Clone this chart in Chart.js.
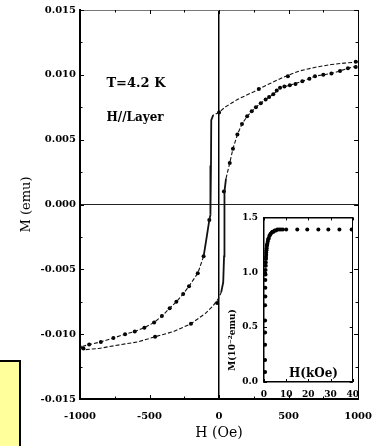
<!DOCTYPE html>
<html>
<head>
<meta charset="utf-8">
<script src="https://cdn.jsdelivr.net/npm/chart.js@4"></script>
<style>
  html, body { margin: 0; padding: 0; background: #fff; }
  #wrap { position: relative; width: 383px; height: 446px; overflow: hidden; }
  #main { position: absolute; left: 0; top: 0; }
  #inset { position: absolute; left: 226px; top: 206px; }
  .note { position: absolute; left: -3px; top: 360px; width: 20px; height: 100px; background: #ffff9c; border: 2px solid #000; }
</style>
</head>
<body>
<div id="wrap">
  <canvas id="main" width="383" height="446"></canvas>
  <canvas id="inset" width="140" height="200"></canvas>
  <div class="note"></div>
</div>
<script>
// Main loop: H in Oe, M in emu
const descH = [1000, 900, 808, 700, 578, 460, 341, 251, 132, 42, 0, -42, -56, -58, -60, -64, -70, -90, -111, -153, -216, -258, -307, -355, -411, -467, -537, -606, -676, -760, -850, -934, -1000];
const descM = [0.0110, 0.0109, 0.0108, 0.0106, 0.0103, 0.0098, 0.0092, 0.0087, 0.0081, 0.0075, 0.0071, 0.0069, 0.0065, 0.0030, -0.0002, -0.0008, -0.0012, -0.0026, -0.0040, -0.0053, -0.0063, -0.0069, -0.0075, -0.0080, -0.0086, -0.0091, -0.0095, -0.0098, -0.0100, -0.0103, -0.0106, -0.0108, -0.0110];

const ascH = [-1000, -969, -864, -704, -585, -460, -328, -202, -98, -42, -7, 15, 30, 36, 38, 40, 50, 77, 100, 132, 165, 202, 265, 335, 390, 439, 509, 599, 690, 808, 927, 1000];
const ascM = [-0.0111, -0.0112, -0.0111, -0.0108, -0.0106, -0.0102, -0.0098, -0.0092, -0.0084, -0.0078, -0.0073, -0.0068, -0.0060, -0.0040, 0.0000, 0.0010, 0.0020, 0.0032, 0.0043, 0.0054, 0.0062, 0.0068, 0.0075, 0.0081, 0.0085, 0.0090, 0.0092, 0.0095, 0.0099, 0.0101, 0.0105, 0.0107];

// measured points
const dotH = [-1000, -975, -934, -850, -760, -676, -606, -537, -467, -411, -355, -307, -258, -216, -153, -111, -70,
              -460, -202, -14, 0,
              35, 77, 100, 132, 165, 202, 235, 265, 300, 335, 360, 390, 415, 439, 470, 509, 550, 599, 650, 690, 750, 808, 870, 927, 983,
              286, 495, 983];
const dotM = [-0.0110, -0.0111, -0.0108, -0.0106, -0.0103, -0.0100, -0.0098, -0.0095, -0.0091, -0.0086, -0.0080, -0.0075, -0.0069, -0.0063, -0.0053, -0.0040, -0.0012,
              -0.0102, -0.0092, -0.0076, 0.0071,
              0.0010, 0.0032, 0.0043, 0.0054, 0.0062, 0.0068, 0.0072, 0.0075, 0.0078, 0.0081, 0.0083, 0.0085, 0.0088, 0.0090, 0.0091, 0.0092, 0.0093, 0.0095, 0.0097, 0.0099, 0.0100, 0.0101, 0.0103, 0.0105, 0.0106,
              0.0089, 0.0099, 0.0110];

const xTicks = [-1000, -750, -500, -250, 0, 250, 500, 750, 1000];
const xTickLabels = ['-1000', '', '-500', '', '0', '', '500', '', '1000'];
const yTicks = [-0.015, -0.0125, -0.01, -0.0075, -0.005, -0.0025, 0, 0.0025, 0.005, 0.0075, 0.01, 0.0125, 0.015];
const yTickLabels = ['-0.015', '', '-0.010', '', '-0.005', '', '0.000', '', '0.005', '', '0.010', '', '0.015'];

// Inset: H in kOe, M in 10^-2 emu
const insetH = [0.5, 0.5, 0.5, 0.5, 0.5, 0.5, 0.6, 0.6, 0.6, 0.7, 0.7, 0.8, 0.8, 0.9, 0.9, 1.0, 1.0, 1.1, 1.2, 1.3, 1.4, 1.5, 1.7, 1.9, 2.1, 2.4, 2.7, 3.0, 3.4, 3.8, 4.3, 4.8, 5.4, 6.0, 6.8, 7.6, 8.5, 10, 15, 19.5, 24.5, 29, 34, 39.5];
const insetM = [0.09, 0.2, 0.34, 0.45, 0.56, 0.7, 0.78, 0.86, 0.93, 0.98, 1.02, 1.06, 1.09, 1.12, 1.14, 1.16, 1.18, 1.2, 1.22, 1.24, 1.25, 1.26, 1.28, 1.3, 1.31, 1.33, 1.34, 1.35, 1.36, 1.37, 1.37, 1.38, 1.38, 1.39, 1.39, 1.39, 1.39, 1.39, 1.39, 1.39, 1.39, 1.39, 1.39, 1.39];
const insetXTicks = [0, 10, 20, 30, 40];
const insetXTickLabels = ['0', '10', '20', '30', '40'];
const insetYTicks = [0, 0.5, 1.0, 1.5];
const insetYTickLabels = ['0.0', '0.5', '1.0', '1.5'];

const serif = "'DejaVu Serif', 'Liberation Serif', serif";
const toPoints = (xs, ys) => xs.map((x, i) => ({ x: x, y: ys[i] }));

// vertical jumps solid, the rest thin dashed
const curveSegment = {
    borderDash: ctx => Math.abs(ctx.p1.x - ctx.p0.x) < 3 ? [] : [4, 2],
    borderWidth: ctx => Math.abs(ctx.p1.x - ctx.p0.x) < 3 ? 1.8 : 1.1
};

// tick marks drawn inwards on all four sides
const inwardTicks = {
    id: 'inwardTicks',
    afterDatasetsDraw(chart, args, opts) {
        const { ctx, chartArea: a, scales: { x, y } } = chart;
        ctx.save();
        ctx.strokeStyle = '#000';
        ctx.lineWidth = 1;
        ctx.beginPath();
        x.ticks.forEach(t => {
            const px = Math.round(x.getPixelForValue(t.value)) + 0.5;
            const len = t.label ? opts.major : opts.minor;
            ctx.moveTo(px, a.bottom); ctx.lineTo(px, a.bottom - len);
            ctx.moveTo(px, a.top); ctx.lineTo(px, a.top + len);
        });
        y.ticks.forEach(t => {
            const py = Math.round(y.getPixelForValue(t.value)) + 0.5;
            const len = t.label ? opts.major : opts.minor;
            ctx.moveTo(a.left, py); ctx.lineTo(a.left + len, py);
            ctx.moveTo(a.right, py); ctx.lineTo(a.right - len, py);
        });
        ctx.stroke();
        ctx.restore();
    }
};

const mainNotes = {
    id: 'mainNotes',
    afterDraw(chart) {
        const { ctx, scales: { x, y } } = chart;
        ctx.save();
        ctx.fillStyle = '#000';
        ctx.textBaseline = 'middle';
        ctx.font = 'bold 13px ' + serif;
        ctx.fillText('T=4.2 K', x.getPixelForValue(-810), y.getPixelForValue(0.0093));
        ctx.font = 'bold 12px ' + serif;
        ctx.fillText('H//Layer', x.getPixelForValue(-810), y.getPixelForValue(0.0067));
        ctx.restore();
    }
};

const insetDeco = {
    id: 'insetDeco',
    beforeDraw(chart) {
        const { ctx, chartArea: a } = chart;
        ctx.save();
        ctx.fillStyle = '#fff';
        ctx.fillRect(a.left, a.top, a.right - a.left, a.bottom - a.top);
        ctx.restore();
    },
    afterDraw(chart) {
        const { ctx, scales: { x, y } } = chart;
        ctx.save();
        ctx.fillStyle = '#000';
        ctx.textAlign = 'center';
        ctx.textBaseline = 'middle';
        ctx.font = 'bold 12px ' + serif;
        ctx.fillText('H(kOe)', x.getPixelForValue(22.3), y.getPixelForValue(0.07));
        ctx.translate(7, 134);
        ctx.rotate(-Math.PI / 2);
        ctx.font = 'bold 9px ' + serif;
        ctx.fillText('M(10\u207B\u00B2emu)', 0, 0);
        ctx.restore();
    }
};

const tickFont = { family: serif, size: 10, weight: 'bold' };

new Chart(document.getElementById('main'), {
    type: 'scatter',
    data: {
        datasets: [
            { data: toPoints(descH, descM), showLine: true, pointRadius: 0, borderColor: '#111', borderWidth: 1.1, segment: curveSegment },
            { data: toPoints(ascH, ascM), showLine: true, pointRadius: 0, borderColor: '#111', borderWidth: 1.1, segment: curveSegment },
            { data: toPoints(dotH, dotM), showLine: false, pointRadius: 2, pointBackgroundColor: '#000', pointBorderWidth: 0 }
        ]
    },
    options: {
        responsive: false,
        animation: false,
        layout: { padding: { left: 0, top: 10, right: 18, bottom: 0 } },
        plugins: { legend: { display: false }, tooltip: { enabled: false }, inwardTicks: { major: 4, minor: 2.5 } },
        scales: {
            x: {
                type: 'linear', min: -1000, max: 1000,
                afterBuildTicks: s => { s.ticks = xTicks.map(v => ({ value: v })); },
                afterFit: s => { s.height = 47; },
                ticks: { callback: (v, i) => xTickLabels[i], font: tickFont, color: '#000', padding: 11, maxRotation: 0, autoSkip: false },
                grid: {
                    drawTicks: false,
                    color: c => c.tick && (c.tick.value === 0 || c.tick.value === 1000) ? '#000' : 'transparent',
                    lineWidth: c => c.tick && c.tick.value === 0 ? 1.5 : 1
                },
                border: { color: '#000', width: 2 },
                title: { display: true, text: 'H (Oe)', color: '#000', font: { family: serif, size: 14 }, padding: { top: 0, bottom: 4 } }
            },
            y: {
                type: 'linear', min: -0.015, max: 0.015,
                afterBuildTicks: s => { s.ticks = yTicks.map(v => ({ value: v })); },
                afterFit: s => { s.width = 80; },
                ticks: { callback: (v, i) => yTickLabels[i], font: tickFont, color: '#000', padding: 4, autoSkip: false },
                grid: {
                    drawTicks: false,
                    color: c => !c.tick ? 'transparent' : c.tick.value === 0 ? '#222' : c.tick.value === 0.015 ? '#777' : 'transparent',
                    lineWidth: 1
                },
                border: { color: '#000', width: 2 },
                title: { display: true, text: 'M (emu)', color: '#000', font: { family: serif, size: 13 }, padding: { top: 19, bottom: 0 } }
            }
        }
    },
    plugins: [inwardTicks, mainNotes]
});

new Chart(document.getElementById('inset'), {
    type: 'scatter',
    data: {
        datasets: [
            { data: toPoints(insetH, insetM), pointRadius: 2, pointBackgroundColor: '#000', pointBorderWidth: 0 }
        ]
    },
    options: {
        responsive: false,
        animation: false,
        layout: { padding: { left: 0, top: 11, right: 5, bottom: 0 } },
        plugins: { legend: { display: false }, tooltip: { enabled: false }, inwardTicks: { major: 3, minor: 3 } },
        scales: {
            x: {
                type: 'linear', min: 0, max: 40,
                afterBuildTicks: s => { s.ticks = insetXTicks.map(v => ({ value: v })); },
                afterFit: s => { s.height = 24; },
                ticks: { callback: (v, i) => insetXTickLabels[i], font: { family: serif, size: 9, weight: 'bold' }, color: '#000', padding: 7, maxRotation: 0, autoSkip: false },
                grid: { drawTicks: false, color: c => c.tick && c.tick.value === 40 ? '#000' : 'transparent' },
                border: { color: '#000', width: 1.5 }
            },
            y: {
                type: 'linear', min: 0, max: 1.5,
                afterBuildTicks: s => { s.ticks = insetYTicks.map(v => ({ value: v })); },
                afterFit: s => { s.width = 38; },
                ticks: { callback: (v, i) => insetYTickLabels[i], font: { family: serif, size: 9, weight: 'bold' }, color: '#000', padding: 6, autoSkip: false },
                grid: { drawTicks: false, color: c => c.tick && c.tick.value === 1.5 ? '#000' : 'transparent', lineWidth: 1.5 },
                border: { color: '#000', width: 1.5 }
            }
        }
    },
    plugins: [insetDeco, inwardTicks]
});
</script>
</body>
</html>
